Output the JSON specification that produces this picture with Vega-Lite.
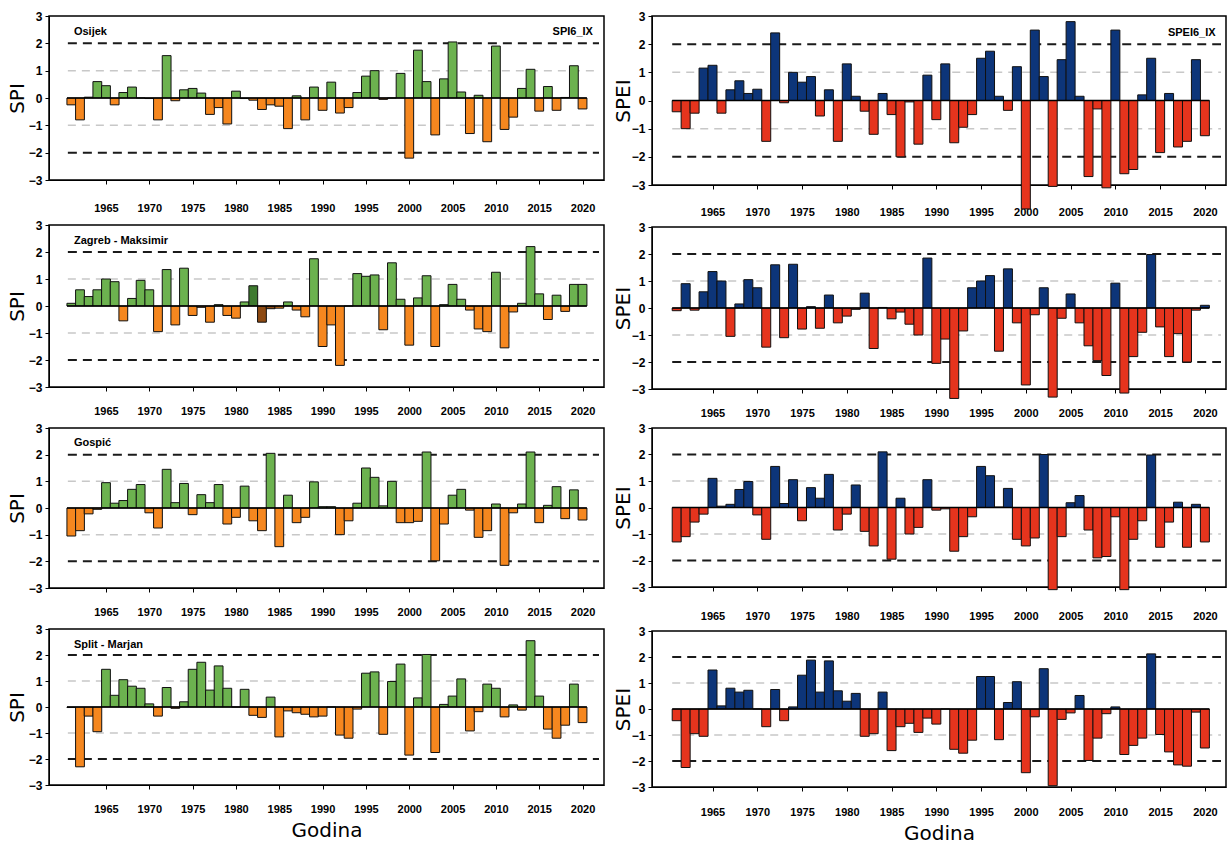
{
"$schema": "https://vega.github.io/schema/vega-lite/v6.json",
"padding": {"left": 6, "top": 9, "right": 3, "bottom": 3},
"background": "white",
"config": {
  "view": {"stroke": "black", "strokeWidth": 1.5},
  "axis": {"labelFont": "Liberation Sans", "labelFontWeight": "bold", "labelFontSize": 11, "labelColor": "black", "tickColor": "black", "domainColor": "black", "tickSize": 4, "grid": false, "titleFont": "DejaVu Sans", "titleFontSize": 20, "titleFontWeight": "normal", "titleColor": "black"},
  "axisY": {"labelFontSize": 12, "labelOverlap": false, "labelFlush": false, "tickCount": 7},
  "axisX": {"titlePadding": 6, "labelFlush": false, "tickCount": 12},
  "text": {"font": "Liberation Sans", "fontWeight": "bold", "fontSize": 11, "color": "black"}
},
"datasets": {
  "osijek_spi": [{"year":1961,"value":-0.25},{"year":1962,"value":-0.8},{"year":1963,"value":0.03},{"year":1964,"value":0.6},{"year":1965,"value":0.45},{"year":1966,"value":-0.25},{"year":1967,"value":0.2},{"year":1968,"value":0.4},{"year":1969,"value":0.0},{"year":1970,"value":-0.02},
    {"year":1971,"value":-0.8},{"year":1972,"value":1.55},{"year":1973,"value":-0.1},{"year":1974,"value":0.3},{"year":1975,"value":0.35},{"year":1976,"value":0.18},{"year":1977,"value":-0.6},{"year":1978,"value":-0.35},{"year":1979,"value":-0.95},{"year":1980,"value":0.25},
    {"year":1981,"value":-0.02},{"year":1982,"value":-0.08},{"year":1983,"value":-0.42},{"year":1984,"value":-0.25},{"year":1985,"value":-0.3},{"year":1986,"value":-1.12},{"year":1987,"value":0.08},{"year":1988,"value":-0.8},{"year":1989,"value":0.4},{"year":1990,"value":-0.45},
    {"year":1991,"value":0.58},{"year":1992,"value":-0.55},{"year":1993,"value":-0.35},{"year":1994,"value":0.2},{"year":1995,"value":0.8},{"year":1996,"value":1.0},{"year":1997,"value":-0.05},{"year":1998,"value":0.0},{"year":1999,"value":0.9},{"year":2000,"value":-2.2},
    {"year":2001,"value":1.75},{"year":2002,"value":0.6},{"year":2003,"value":-1.35},{"year":2004,"value":0.7},{"year":2005,"value":2.05},{"year":2006,"value":0.22},{"year":2007,"value":-1.3},{"year":2008,"value":0.1},{"year":2009,"value":-1.6},{"year":2010,"value":1.9},
    {"year":2011,"value":-1.15},{"year":2012,"value":-0.7},{"year":2013,"value":0.35},{"year":2014,"value":1.05},{"year":2015,"value":-0.48},{"year":2016,"value":0.42},{"year":2017,"value":-0.45},{"year":2018,"value":0.02},{"year":2019,"value":1.18},{"year":2020,"value":-0.4}],
  "osijek_spei": [{"year":1961,"value":-0.4},{"year":1962,"value":-1.0},{"year":1963,"value":-0.45},{"year":1964,"value":1.15},{"year":1965,"value":1.25},{"year":1966,"value":-0.45},{"year":1967,"value":0.38},{"year":1968,"value":0.7},{"year":1969,"value":0.25},{"year":1970,"value":0.4},
    {"year":1971,"value":-1.45},{"year":1972,"value":2.4},{"year":1973,"value":-0.08},{"year":1974,"value":1.0},{"year":1975,"value":0.65},{"year":1976,"value":0.85},{"year":1977,"value":-0.55},{"year":1978,"value":0.38},{"year":1979,"value":-1.45},{"year":1980,"value":1.3},
    {"year":1981,"value":0.15},{"year":1982,"value":-0.38},{"year":1983,"value":-1.2},{"year":1984,"value":0.25},{"year":1985,"value":-0.5},{"year":1986,"value":-2.0},{"year":1987,"value":-0.05},{"year":1988,"value":-1.55},{"year":1989,"value":0.9},{"year":1990,"value":-0.68},
    {"year":1991,"value":1.3},{"year":1992,"value":-1.5},{"year":1993,"value":-0.95},{"year":1994,"value":-0.5},{"year":1995,"value":1.5},{"year":1996,"value":1.75},{"year":1997,"value":0.15},{"year":1998,"value":-0.35},{"year":1999,"value":1.2},{"year":2000,"value":-3.85},
    {"year":2001,"value":2.5},{"year":2002,"value":0.85},{"year":2003,"value":-3.05},{"year":2004,"value":1.45},{"year":2005,"value":2.8},{"year":2006,"value":0.15},{"year":2007,"value":-2.7},{"year":2008,"value":-0.3},{"year":2009,"value":-3.1},{"year":2010,"value":2.5},
    {"year":2011,"value":-2.6},{"year":2012,"value":-2.45},{"year":2013,"value":0.2},{"year":2014,"value":1.5},{"year":2015,"value":-1.85},{"year":2016,"value":0.25},{"year":2017,"value":-1.65},{"year":2018,"value":-1.45},{"year":2019,"value":1.45},{"year":2020,"value":-1.25}],
  "zagreb_spi": [{"year":1961,"value":0.1},{"year":1962,"value":0.6},{"year":1963,"value":0.35},{"year":1964,"value":0.6},{"year":1965,"value":1.0},{"year":1966,"value":0.9},{"year":1967,"value":-0.55},{"year":1968,"value":0.28},{"year":1969,"value":0.95},{"year":1970,"value":0.6},
    {"year":1971,"value":-0.95},{"year":1972,"value":1.35},{"year":1973,"value":-0.7},{"year":1974,"value":1.4},{"year":1975,"value":-0.35},{"year":1976,"value":-0.05},{"year":1977,"value":-0.6},{"year":1978,"value":0.05},{"year":1979,"value":-0.35},{"year":1980,"value":-0.45},
    {"year":1981,"value":0.15},{"year":1982,"value":0.75},{"year":1983,"value":-0.6},{"year":1984,"value":-0.1},{"year":1985,"value":-0.08},{"year":1986,"value":0.15},{"year":1987,"value":-0.15},{"year":1988,"value":-0.4},{"year":1989,"value":1.75},{"year":1990,"value":-1.5},
    {"year":1991,"value":-0.7},{"year":1992,"value":-2.2},{"year":1993,"value":0.0},{"year":1994,"value":1.2},{"year":1995,"value":1.1},{"year":1996,"value":1.15},{"year":1997,"value":-0.88},{"year":1998,"value":1.6},{"year":1999,"value":0.25},{"year":2000,"value":-1.45},
    {"year":2001,"value":0.3},{"year":2002,"value":1.12},{"year":2003,"value":-1.5},{"year":2004,"value":0.05},{"year":2005,"value":0.8},{"year":2006,"value":0.25},{"year":2007,"value":-0.15},{"year":2008,"value":-0.85},{"year":2009,"value":-0.95},{"year":2010,"value":1.25},
    {"year":2011,"value":-1.55},{"year":2012,"value":-0.22},{"year":2013,"value":0.1},{"year":2014,"value":2.2},{"year":2015,"value":0.45},{"year":2016,"value":-0.5},{"year":2017,"value":0.4},{"year":2018,"value":-0.2},{"year":2019,"value":0.8},{"year":2020,"value":0.8}],
  "zagreb_spei": [{"year":1961,"value":-0.1},{"year":1962,"value":0.9},{"year":1963,"value":-0.08},{"year":1964,"value":0.6},{"year":1965,"value":1.35},{"year":1966,"value":1.0},{"year":1967,"value":-1.05},{"year":1968,"value":0.15},{"year":1969,"value":1.05},{"year":1970,"value":0.75},
    {"year":1971,"value":-1.45},{"year":1972,"value":1.6},{"year":1973,"value":-1.1},{"year":1974,"value":1.62},{"year":1975,"value":-0.78},{"year":1976,"value":0.05},{"year":1977,"value":-0.75},{"year":1978,"value":0.48},{"year":1979,"value":-0.55},{"year":1980,"value":-0.3},
    {"year":1981,"value":-0.05},{"year":1982,"value":0.55},{"year":1983,"value":-1.5},{"year":1984,"value":0.02},{"year":1985,"value":-0.4},{"year":1986,"value":-0.15},{"year":1987,"value":-0.6},{"year":1988,"value":-1.0},{"year":1989,"value":1.85},{"year":1990,"value":-2.05},
    {"year":1991,"value":-1.15},{"year":1992,"value":-3.35},{"year":1993,"value":-0.85},{"year":1994,"value":0.75},{"year":1995,"value":1.0},{"year":1996,"value":1.2},{"year":1997,"value":-1.6},{"year":1998,"value":1.45},{"year":1999,"value":-0.55},{"year":2000,"value":-2.85},
    {"year":2001,"value":-0.25},{"year":2002,"value":0.75},{"year":2003,"value":-3.3},{"year":2004,"value":-0.38},{"year":2005,"value":0.52},{"year":2006,"value":-0.55},{"year":2007,"value":-1.4},{"year":2008,"value":-1.95},{"year":2009,"value":-2.5},{"year":2010,"value":0.92},
    {"year":2011,"value":-3.15},{"year":2012,"value":-1.8},{"year":2013,"value":-0.9},{"year":2014,"value":1.98},{"year":2015,"value":-0.7},{"year":2016,"value":-1.8},{"year":2017,"value":-0.95},{"year":2018,"value":-2.0},{"year":2019,"value":-0.08},{"year":2020,"value":0.1}],
  "gospic_spi": [{"year":1961,"value":-1.05},{"year":1962,"value":-0.85},{"year":1963,"value":-0.22},{"year":1964,"value":-0.05},{"year":1965,"value":0.95},{"year":1966,"value":0.18},{"year":1967,"value":0.28},{"year":1968,"value":0.7},{"year":1969,"value":0.88},{"year":1970,"value":-0.18},
    {"year":1971,"value":-0.75},{"year":1972,"value":1.45},{"year":1973,"value":0.2},{"year":1974,"value":0.92},{"year":1975,"value":-0.25},{"year":1976,"value":0.5},{"year":1977,"value":0.2},{"year":1978,"value":0.88},{"year":1979,"value":-0.6},{"year":1980,"value":-0.35},
    {"year":1981,"value":0.82},{"year":1982,"value":-0.48},{"year":1983,"value":-0.85},{"year":1984,"value":2.05},{"year":1985,"value":-1.45},{"year":1986,"value":0.48},{"year":1987,"value":-0.55},{"year":1988,"value":-0.35},{"year":1989,"value":0.98},{"year":1990,"value":0.05},
    {"year":1991,"value":0.05},{"year":1992,"value":-1.0},{"year":1993,"value":-0.48},{"year":1994,"value":0.18},{"year":1995,"value":1.5},{"year":1996,"value":1.15},{"year":1997,"value":0.08},{"year":1998,"value":1.0},{"year":1999,"value":-0.55},{"year":2000,"value":-0.55},
    {"year":2001,"value":-0.5},{"year":2002,"value":2.1},{"year":2003,"value":-1.98},{"year":2004,"value":-0.6},{"year":2005,"value":0.48},{"year":2006,"value":0.7},{"year":2007,"value":-0.08},{"year":2008,"value":-1.1},{"year":2009,"value":-0.85},{"year":2010,"value":0.15},
    {"year":2011,"value":-2.15},{"year":2012,"value":-0.18},{"year":2013,"value":0.15},{"year":2014,"value":2.1},{"year":2015,"value":-0.55},{"year":2016,"value":0.1},{"year":2017,"value":0.8},{"year":2018,"value":-0.4},{"year":2019,"value":0.68},{"year":2020,"value":-0.45}],
  "gospic_spei": [{"year":1961,"value":-1.3},{"year":1962,"value":-1.1},{"year":1963,"value":-0.55},{"year":1964,"value":-0.25},{"year":1965,"value":1.1},{"year":1966,"value":0.05},{"year":1967,"value":0.12},{"year":1968,"value":0.68},{"year":1969,"value":0.98},{"year":1970,"value":-0.28},
    {"year":1971,"value":-1.2},{"year":1972,"value":1.55},{"year":1973,"value":0.15},{"year":1974,"value":1.05},{"year":1975,"value":-0.5},{"year":1976,"value":0.75},{"year":1977,"value":0.35},{"year":1978,"value":1.25},{"year":1979,"value":-0.85},{"year":1980,"value":-0.25},
    {"year":1981,"value":0.85},{"year":1982,"value":-0.9},{"year":1983,"value":-1.45},{"year":1984,"value":2.1},{"year":1985,"value":-1.95},{"year":1986,"value":0.35},{"year":1987,"value":-1.0},{"year":1988,"value":-0.75},{"year":1989,"value":1.05},{"year":1990,"value":-0.1},
    {"year":1991,"value":-0.05},{"year":1992,"value":-1.65},{"year":1993,"value":-1.1},{"year":1994,"value":-0.35},{"year":1995,"value":1.55},{"year":1996,"value":1.2},{"year":1997,"value":0.02},{"year":1998,"value":0.72},{"year":1999,"value":-1.2},{"year":2000,"value":-1.45},
    {"year":2001,"value":-1.15},{"year":2002,"value":2.0},{"year":2003,"value":-3.1},{"year":2004,"value":-1.1},{"year":2005,"value":0.18},{"year":2006,"value":0.45},{"year":2007,"value":-0.85},{"year":2008,"value":-1.9},{"year":2009,"value":-1.85},{"year":2010,"value":-0.35},
    {"year":2011,"value":-3.1},{"year":2012,"value":-1.2},{"year":2013,"value":-0.5},{"year":2014,"value":1.98},{"year":2015,"value":-1.5},{"year":2016,"value":-0.55},{"year":2017,"value":0.2},{"year":2018,"value":-1.5},{"year":2019,"value":0.12},{"year":2020,"value":-1.3}],
  "split_spi": [{"year":1961,"value":-0.02},{"year":1962,"value":-2.3},{"year":1963,"value":-0.35},{"year":1964,"value":-0.95},{"year":1965,"value":1.45},{"year":1966,"value":0.45},{"year":1967,"value":1.05},{"year":1968,"value":0.8},{"year":1969,"value":0.72},{"year":1970,"value":0.12},
    {"year":1971,"value":-0.35},{"year":1972,"value":0.75},{"year":1973,"value":-0.05},{"year":1974,"value":0.2},{"year":1975,"value":1.45},{"year":1976,"value":1.72},{"year":1977,"value":0.65},{"year":1978,"value":1.58},{"year":1979,"value":0.72},{"year":1980,"value":0.0},
    {"year":1981,"value":0.68},{"year":1982,"value":-0.32},{"year":1983,"value":-0.4},{"year":1984,"value":0.38},{"year":1985,"value":-1.15},{"year":1986,"value":-0.15},{"year":1987,"value":-0.22},{"year":1988,"value":-0.28},{"year":1989,"value":-0.38},{"year":1990,"value":-0.35},
    {"year":1991,"value":0.0},{"year":1992,"value":-1.08},{"year":1993,"value":-1.2},{"year":1994,"value":-0.08},{"year":1995,"value":1.3},{"year":1996,"value":1.35},{"year":1997,"value":-1.05},{"year":1998,"value":0.98},{"year":1999,"value":1.65},{"year":2000,"value":-1.85},
    {"year":2001,"value":0.35},{"year":2002,"value":2.02},{"year":2003,"value":-1.75},{"year":2004,"value":0.1},{"year":2005,"value":0.42},{"year":2006,"value":1.08},{"year":2007,"value":-0.92},{"year":2008,"value":-0.18},{"year":2009,"value":0.88},{"year":2010,"value":0.72},
    {"year":2011,"value":-0.38},{"year":2012,"value":0.08},{"year":2013,"value":-0.12},{"year":2014,"value":2.55},{"year":2015,"value":0.42},{"year":2016,"value":-0.85},{"year":2017,"value":-1.2},{"year":2018,"value":-0.7},{"year":2019,"value":0.88},{"year":2020,"value":-0.6}],
  "split_spei": [{"year":1961,"value":-0.45},{"year":1962,"value":-2.25},{"year":1963,"value":-0.95},{"year":1964,"value":-1.05},{"year":1965,"value":1.5},{"year":1966,"value":0.12},{"year":1967,"value":0.8},{"year":1968,"value":0.65},{"year":1969,"value":0.72},{"year":1970,"value":0.0},
    {"year":1971,"value":-0.68},{"year":1972,"value":0.75},{"year":1973,"value":-0.45},{"year":1974,"value":0.08},{"year":1975,"value":1.3},{"year":1976,"value":1.88},{"year":1977,"value":0.65},{"year":1978,"value":1.85},{"year":1979,"value":0.7},{"year":1980,"value":0.3},
    {"year":1981,"value":0.6},{"year":1982,"value":-1.05},{"year":1983,"value":-0.95},{"year":1984,"value":0.65},{"year":1985,"value":-1.6},{"year":1986,"value":-0.68},{"year":1987,"value":-0.55},{"year":1988,"value":-0.9},{"year":1989,"value":-0.35},{"year":1990,"value":-0.58},
    {"year":1991,"value":0.0},{"year":1992,"value":-1.55},{"year":1993,"value":-1.7},{"year":1994,"value":-1.2},{"year":1995,"value":1.25},{"year":1996,"value":1.25},{"year":1997,"value":-1.18},{"year":1998,"value":0.25},{"year":1999,"value":1.05},{"year":2000,"value":-2.45},
    {"year":2001,"value":-0.3},{"year":2002,"value":1.55},{"year":2003,"value":-2.95},{"year":2004,"value":-0.4},{"year":2005,"value":-0.15},{"year":2006,"value":0.52},{"year":2007,"value":-1.98},{"year":2008,"value":-1.12},{"year":2009,"value":-0.18},{"year":2010,"value":0.08},
    {"year":2011,"value":-1.75},{"year":2012,"value":-1.4},{"year":2013,"value":-1.12},{"year":2014,"value":2.12},{"year":2015,"value":-0.98},{"year":2016,"value":-1.65},{"year":2017,"value":-2.15},{"year":2018,"value":-2.2},{"year":2019,"value":-0.12},{"year":2020,"value":-1.5}],
  "grey_lines": [{"value": 1}, {"value": -1}],
  "black_lines": [{"value": 2}, {"value": -2}],
  "zero_line": [{"value": 0}],
  "label_anchor": [{}]
},
"hconcat": [
 {"spacing": 4, "vconcat": [
  {"width": 555, "height": 164, "layer": [
    {"data": {"name": "grey_lines"}, "mark": {"type": "rule", "color": "#c8c8c8", "strokeWidth": 1.5, "strokeDash": [8, 6]},
     "encoding": {"y": {"field": "value", "type": "quantitative", "scale": {"domain": [-3, 3], "nice": false}, "axis": {"values": [-3,-2,-1,0,1,2,3], "tickCount": 7, "labelOverlap": false, "title": "SPI", "labelPadding": 3, "titlePadding": 1}},
                  "x": {"datum": 1960.6, "type": "quantitative", "scale": {"domain": [1959.0, 2021.9], "nice": false, "zero": false}, "axis": {"values": [1965,1970,1975,1980,1985,1990,1995,2000,2005,2010,2015,2020], "tickCount": 12, "format": "d", "title": null, "labelPadding": 18}},
                  "x2": {"datum": 2021.9}}},
    {"data": {"name": "black_lines"}, "mark": {"type": "rule", "color": "#1a1a1a", "strokeWidth": 2, "strokeDash": [9, 6]},
     "encoding": {"y": {"field": "value", "type": "quantitative"}, "x": {"datum": 1960.6, "type": "quantitative"}, "x2": {"datum": 2021.9}}},
    {"data": {"name": "osijek_spi"}, "mark": {"type": "bar", "width": 8.8, "stroke": "#111111", "strokeWidth": 1},
     "encoding": {"x": {"field": "year", "type": "quantitative"}, "y": {"field": "value", "type": "quantitative"},
                  "color": {"condition": {"test": "datum.value >= 0", "value": "#6cb24f"}, "value": "#f5871f"}}},
    {"data": {"name": "zero_line"}, "mark": {"type": "rule", "color": "black", "strokeWidth": 1.5},
     "encoding": {"y": {"field": "value", "type": "quantitative"}, "x": {"datum": 1960.5, "type": "quantitative"}, "x2": {"datum": 2020.5}}},
    {"data": {"name": "label_anchor"}, "mark": {"type": "text", "align": "left", "baseline": "middle"}, "encoding": {"x": {"datum": 1961.3}, "y": {"datum": 2.4}, "text": {"value": "Osijek"}}},
    {"data": {"name": "label_anchor"}, "mark": {"type": "text", "align": "right", "baseline": "middle"}, "encoding": {"x": {"datum": 2021.2}, "y": {"datum": 2.4}, "text": {"value": "SPI6_IX"}}}
  ]},
  {"width": 555, "height": 162, "layer": [
    {"data": {"name": "grey_lines"}, "mark": {"type": "rule", "color": "#c8c8c8", "strokeWidth": 1.5, "strokeDash": [8, 6]},
     "encoding": {"y": {"field": "value", "type": "quantitative", "scale": {"domain": [-3, 3], "nice": false}, "axis": {"values": [-3,-2,-1,0,1,2,3], "tickCount": 7, "labelOverlap": false, "title": "SPI", "labelPadding": 3, "titlePadding": 1}},
                  "x": {"datum": 1960.6, "type": "quantitative", "scale": {"domain": [1959.0, 2021.9], "nice": false, "zero": false}, "axis": {"values": [1965,1970,1975,1980,1985,1990,1995,2000,2005,2010,2015,2020], "tickCount": 12, "format": "d", "title": null, "labelPadding": 14}},
                  "x2": {"datum": 2021.9}}},
    {"data": {"name": "black_lines"}, "mark": {"type": "rule", "color": "#1a1a1a", "strokeWidth": 2, "strokeDash": [9, 6]},
     "encoding": {"y": {"field": "value", "type": "quantitative"}, "x": {"datum": 1960.6, "type": "quantitative"}, "x2": {"datum": 2021.9}}},
    {"data": {"name": "zagreb_spi"}, "mark": {"type": "bar", "width": 8.8, "stroke": "#111111", "strokeWidth": 1},
     "encoding": {"x": {"field": "year", "type": "quantitative"}, "y": {"field": "value", "type": "quantitative"},
                  "color": {"condition": [{"test": "datum.year == 1982", "value": "#3e7a2f"}, {"test": "datum.year == 1983 || datum.year == 1984", "value": "#8e4a12"}, {"test": "datum.value >= 0", "value": "#6cb24f"}], "value": "#f5871f"}}},
    {"data": {"name": "zero_line"}, "mark": {"type": "rule", "color": "black", "strokeWidth": 1.5},
     "encoding": {"y": {"field": "value", "type": "quantitative"}, "x": {"datum": 1960.5, "type": "quantitative"}, "x2": {"datum": 2020.5}}},
    {"data": {"name": "label_anchor"}, "mark": {"type": "text", "align": "left", "baseline": "middle"}, "encoding": {"x": {"datum": 1961.3}, "y": {"datum": 2.4}, "text": {"value": "Zagreb - Maksimir"}}}
  ]},
  {"width": 555, "height": 160, "layer": [
    {"data": {"name": "grey_lines"}, "mark": {"type": "rule", "color": "#c8c8c8", "strokeWidth": 1.5, "strokeDash": [8, 6]},
     "encoding": {"y": {"field": "value", "type": "quantitative", "scale": {"domain": [-3, 3], "nice": false}, "axis": {"values": [-3,-2,-1,0,1,2,3], "tickCount": 7, "labelOverlap": false, "title": "SPI", "labelPadding": 3, "titlePadding": 1}},
                  "x": {"datum": 1960.6, "type": "quantitative", "scale": {"domain": [1959.0, 2021.9], "nice": false, "zero": false}, "axis": {"values": [1965,1970,1975,1980,1985,1990,1995,2000,2005,2010,2015,2020], "tickCount": 12, "format": "d", "title": null, "labelPadding": 14}},
                  "x2": {"datum": 2021.9}}},
    {"data": {"name": "black_lines"}, "mark": {"type": "rule", "color": "#1a1a1a", "strokeWidth": 2, "strokeDash": [9, 6]},
     "encoding": {"y": {"field": "value", "type": "quantitative"}, "x": {"datum": 1960.6, "type": "quantitative"}, "x2": {"datum": 2021.9}}},
    {"data": {"name": "gospic_spi"}, "mark": {"type": "bar", "width": 8.8, "stroke": "#111111", "strokeWidth": 1},
     "encoding": {"x": {"field": "year", "type": "quantitative"}, "y": {"field": "value", "type": "quantitative"},
                  "color": {"condition": {"test": "datum.value >= 0", "value": "#6cb24f"}, "value": "#f5871f"}}},
    {"data": {"name": "zero_line"}, "mark": {"type": "rule", "color": "black", "strokeWidth": 1.5},
     "encoding": {"y": {"field": "value", "type": "quantitative"}, "x": {"datum": 1960.5, "type": "quantitative"}, "x2": {"datum": 2020.5}}},
    {"data": {"name": "label_anchor"}, "mark": {"type": "text", "align": "left", "baseline": "middle"}, "encoding": {"x": {"datum": 1961.3}, "y": {"datum": 2.45}, "text": {"value": "Gospić"}}}
  ]},
  {"width": 555, "height": 156, "layer": [
    {"data": {"name": "grey_lines"}, "mark": {"type": "rule", "color": "#c8c8c8", "strokeWidth": 1.5, "strokeDash": [8, 6]},
     "encoding": {"y": {"field": "value", "type": "quantitative", "scale": {"domain": [-3, 3], "nice": false}, "axis": {"values": [-3,-2,-1,0,1,2,3], "tickCount": 7, "labelOverlap": false, "title": "SPI", "labelPadding": 3, "titlePadding": 1}},
                  "x": {"datum": 1960.6, "type": "quantitative", "scale": {"domain": [1959.0, 2021.9], "nice": false, "zero": false}, "axis": {"values": [1965,1970,1975,1980,1985,1990,1995,2000,2005,2010,2015,2020], "tickCount": 12, "format": "d", "title": "Godina", "labelPadding": 14}},
                  "x2": {"datum": 2021.9}}},
    {"data": {"name": "black_lines"}, "mark": {"type": "rule", "color": "#1a1a1a", "strokeWidth": 2, "strokeDash": [9, 6]},
     "encoding": {"y": {"field": "value", "type": "quantitative"}, "x": {"datum": 1960.6, "type": "quantitative"}, "x2": {"datum": 2021.9}}},
    {"data": {"name": "split_spi"}, "mark": {"type": "bar", "width": 8.8, "stroke": "#111111", "strokeWidth": 1},
     "encoding": {"x": {"field": "year", "type": "quantitative"}, "y": {"field": "value", "type": "quantitative"},
                  "color": {"condition": {"test": "datum.value >= 0", "value": "#6cb24f"}, "value": "#f5871f"}}},
    {"data": {"name": "zero_line"}, "mark": {"type": "rule", "color": "black", "strokeWidth": 1.5},
     "encoding": {"y": {"field": "value", "type": "quantitative"}, "x": {"datum": 1960.5, "type": "quantitative"}, "x2": {"datum": 2020.5}}},
    {"data": {"name": "label_anchor"}, "mark": {"type": "text", "align": "left", "baseline": "middle"}, "encoding": {"x": {"datum": 1961.3}, "y": {"datum": 2.4}, "text": {"value": "Split - Marjan"}}}
  ]}
 ]},
 {"spacing": 2, "vconcat": [
  {"width": 574, "height": 169, "layer": [
    {"data": {"name": "grey_lines"}, "mark": {"type": "rule", "color": "#c8c8c8", "strokeWidth": 1.5, "strokeDash": [8, 6]},
     "encoding": {"y": {"field": "value", "type": "quantitative", "scale": {"domain": [-3, 3], "nice": false}, "axis": {"values": [-3,-2,-1,0,1,2,3], "tickCount": 7, "labelOverlap": false, "title": "SPEI", "labelPadding": 3, "titlePadding": -2}},
                  "x": {"datum": 1960.5, "type": "quantitative", "scale": {"domain": [1958.8, 2021.8], "nice": false, "zero": false}, "axis": {"values": [1965,1970,1975,1980,1985,1990,1995,2000,2005,2010,2015,2020], "tickCount": 12, "format": "d", "title": null, "labelPadding": 17}},
                  "x2": {"datum": 2021.8}}},
    {"data": {"name": "black_lines"}, "mark": {"type": "rule", "color": "#1a1a1a", "strokeWidth": 2, "strokeDash": [9, 6]},
     "encoding": {"y": {"field": "value", "type": "quantitative"}, "x": {"datum": 1960.5, "type": "quantitative"}, "x2": {"datum": 2021.8}}},
    {"data": {"name": "osijek_spei"}, "mark": {"type": "bar", "width": 9, "stroke": "#111111", "strokeWidth": 1},
     "encoding": {"x": {"field": "year", "type": "quantitative"}, "y": {"field": "value", "type": "quantitative"},
                  "color": {"condition": {"test": "datum.value >= 0", "value": "#0d3579"}, "value": "#e5341d"}}},
    {"data": {"name": "zero_line"}, "mark": {"type": "rule", "color": "black", "strokeWidth": 1.5},
     "encoding": {"y": {"field": "value", "type": "quantitative"}, "x": {"datum": 1960.5, "type": "quantitative"}, "x2": {"datum": 2020.5}}},
    {"data": {"name": "label_anchor"}, "mark": {"type": "text", "align": "right", "baseline": "middle"}, "encoding": {"x": {"datum": 2021.2}, "y": {"datum": 2.4}, "text": {"value": "SPEI6_IX"}}}
  ]},
  {"width": 574, "height": 162, "layer": [
    {"data": {"name": "grey_lines"}, "mark": {"type": "rule", "color": "#c8c8c8", "strokeWidth": 1.5, "strokeDash": [8, 6]},
     "encoding": {"y": {"field": "value", "type": "quantitative", "scale": {"domain": [-3, 3], "nice": false}, "axis": {"values": [-3,-2,-1,0,1,2,3], "tickCount": 7, "labelOverlap": false, "title": "SPEI", "labelPadding": 3, "titlePadding": -2}},
                  "x": {"datum": 1960.5, "type": "quantitative", "scale": {"domain": [1958.8, 2021.8], "nice": false, "zero": false}, "axis": {"values": [1965,1970,1975,1980,1985,1990,1995,2000,2005,2010,2015,2020], "tickCount": 12, "format": "d", "title": null, "labelPadding": 14}},
                  "x2": {"datum": 2021.8}}},
    {"data": {"name": "black_lines"}, "mark": {"type": "rule", "color": "#1a1a1a", "strokeWidth": 2, "strokeDash": [9, 6]},
     "encoding": {"y": {"field": "value", "type": "quantitative"}, "x": {"datum": 1960.5, "type": "quantitative"}, "x2": {"datum": 2021.8}}},
    {"data": {"name": "zagreb_spei"}, "mark": {"type": "bar", "width": 9, "stroke": "#111111", "strokeWidth": 1},
     "encoding": {"x": {"field": "year", "type": "quantitative"}, "y": {"field": "value", "type": "quantitative"},
                  "color": {"condition": {"test": "datum.value >= 0", "value": "#0d3579"}, "value": "#e5341d"}}},
    {"data": {"name": "zero_line"}, "mark": {"type": "rule", "color": "black", "strokeWidth": 1.5},
     "encoding": {"y": {"field": "value", "type": "quantitative"}, "x": {"datum": 1960.5, "type": "quantitative"}, "x2": {"datum": 2020.5}}}
  ]},
  {"width": 574, "height": 159, "layer": [
    {"data": {"name": "grey_lines"}, "mark": {"type": "rule", "color": "#c8c8c8", "strokeWidth": 1.5, "strokeDash": [8, 6]},
     "encoding": {"y": {"field": "value", "type": "quantitative", "scale": {"domain": [-3, 3], "nice": false}, "axis": {"values": [-3,-2,-1,0,1,2,3], "tickCount": 7, "labelOverlap": false, "title": "SPEI", "labelPadding": 3, "titlePadding": -2}},
                  "x": {"datum": 1960.5, "type": "quantitative", "scale": {"domain": [1958.8, 2021.8], "nice": false, "zero": false}, "axis": {"values": [1965,1970,1975,1980,1985,1990,1995,2000,2005,2010,2015,2020], "tickCount": 12, "format": "d", "title": null, "labelPadding": 19}},
                  "x2": {"datum": 2021.8}}},
    {"data": {"name": "black_lines"}, "mark": {"type": "rule", "color": "#1a1a1a", "strokeWidth": 2, "strokeDash": [9, 6]},
     "encoding": {"y": {"field": "value", "type": "quantitative"}, "x": {"datum": 1960.5, "type": "quantitative"}, "x2": {"datum": 2021.8}}},
    {"data": {"name": "gospic_spei"}, "mark": {"type": "bar", "width": 9, "stroke": "#111111", "strokeWidth": 1},
     "encoding": {"x": {"field": "year", "type": "quantitative"}, "y": {"field": "value", "type": "quantitative"},
                  "color": {"condition": {"test": "datum.value >= 0", "value": "#0d3579"}, "value": "#e5341d"}}},
    {"data": {"name": "zero_line"}, "mark": {"type": "rule", "color": "black", "strokeWidth": 1.5},
     "encoding": {"y": {"field": "value", "type": "quantitative"}, "x": {"datum": 1960.5, "type": "quantitative"}, "x2": {"datum": 2020.5}}}
  ]},
  {"width": 574, "height": 156, "layer": [
    {"data": {"name": "grey_lines"}, "mark": {"type": "rule", "color": "#c8c8c8", "strokeWidth": 1.5, "strokeDash": [8, 6]},
     "encoding": {"y": {"field": "value", "type": "quantitative", "scale": {"domain": [-3, 3], "nice": false}, "axis": {"values": [-3,-2,-1,0,1,2,3], "tickCount": 7, "labelOverlap": false, "title": "SPEI", "labelPadding": 3, "titlePadding": -2}},
                  "x": {"datum": 1960.5, "type": "quantitative", "scale": {"domain": [1958.8, 2021.8], "nice": false, "zero": false}, "axis": {"values": [1965,1970,1975,1980,1985,1990,1995,2000,2005,2010,2015,2020], "tickCount": 12, "format": "d", "title": "Godina", "labelPadding": 15}},
                  "x2": {"datum": 2021.8}}},
    {"data": {"name": "black_lines"}, "mark": {"type": "rule", "color": "#1a1a1a", "strokeWidth": 2, "strokeDash": [9, 6]},
     "encoding": {"y": {"field": "value", "type": "quantitative"}, "x": {"datum": 1960.5, "type": "quantitative"}, "x2": {"datum": 2021.8}}},
    {"data": {"name": "split_spei"}, "mark": {"type": "bar", "width": 9, "stroke": "#111111", "strokeWidth": 1},
     "encoding": {"x": {"field": "year", "type": "quantitative"}, "y": {"field": "value", "type": "quantitative"},
                  "color": {"condition": {"test": "datum.value >= 0", "value": "#0d3579"}, "value": "#e5341d"}}},
    {"data": {"name": "zero_line"}, "mark": {"type": "rule", "color": "black", "strokeWidth": 1.5},
     "encoding": {"y": {"field": "value", "type": "quantitative"}, "x": {"datum": 1960.5, "type": "quantitative"}, "x2": {"datum": 2020.5}}}
  ]}
 ]}
],
"spacing": 7
}
